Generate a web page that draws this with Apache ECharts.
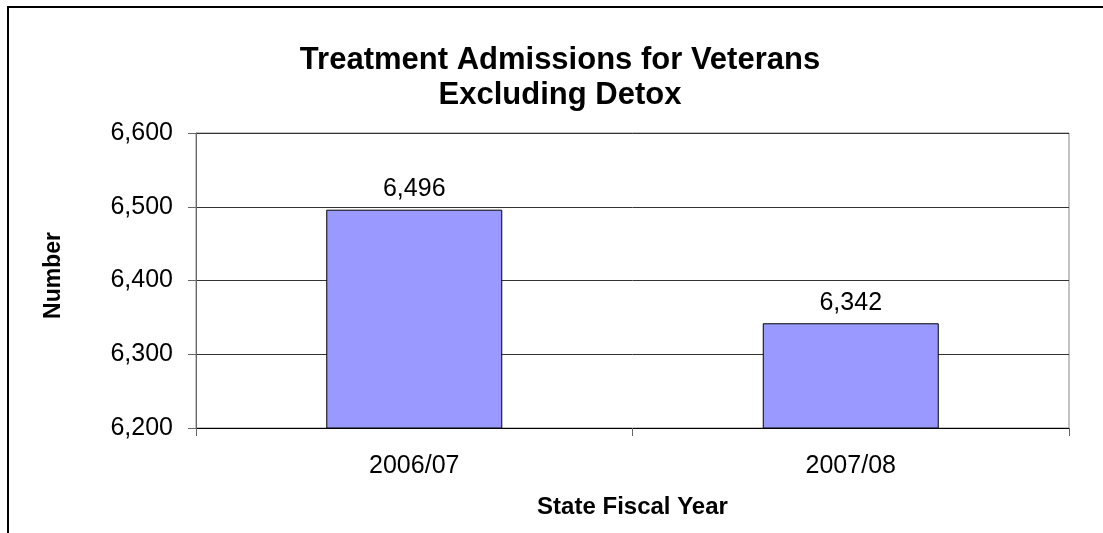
<!DOCTYPE html>
<html>
<head>
<meta charset="utf-8">
<script src="https://cdn.jsdelivr.net/npm/echarts@6/dist/echarts.min.js"></script>
<style>
html,body{margin:0;padding:0;background:#fff;}
#chart{width:1103px;height:533px;}
</style>
</head>
<body>
<div id="chart"></div>
<script>
var categories = ['2006/07', '2007/08'];
var admissions = [6496, 6342];
var yMin = 6200, yMax = 6600, yStep = 100;
var titleLines = ['Treatment Admissions for Veterans', 'Excluding Detox'];

var FONT = '"Liberation Sans", Arial, sans-serif';
function fmt(v){ return String(v).replace(/\B(?=(\d{3})+(?!\d))/g, ','); }

var chart = echarts.init(document.getElementById('chart'), null, {renderer:'canvas'});
chart.setOption({
  animation: false,
  backgroundColor: '#fff',
  graphic: [
    {type: 'line', shape: {x1: 7, y1: 7, x2: 1110, y2: 7}, style: {stroke: '#000', lineWidth: 2}, silent: true},
    {type: 'line', shape: {x1: 8, y1: 6, x2: 8, y2: 540}, style: {stroke: '#000', lineWidth: 2}, silent: true},
    {type: 'text', x: 560, y: 60, style: {text: titleLines[0], font: 'bold 31px ' + FONT, fill: '#000', textAlign: 'center', textVerticalAlign: 'middle'}, silent: true},
    {type: 'text', x: 560, y: 95, style: {text: titleLines[1], font: 'bold 31px ' + FONT, fill: '#000', textAlign: 'center', textVerticalAlign: 'middle'}, silent: true}
  ],
  grid: {left: 196, right: 34, top: 133, bottom: 105, show: true, borderColor: '#888', borderWidth: 1, backgroundColor: 'transparent'},
  xAxis: {
    type: 'category', data: categories,
    name: 'State Fiscal Year', nameLocation: 'middle', nameGap: 67,
    nameTextStyle: {fontFamily: FONT, fontSize: 24, fontWeight: 'bold', color: '#000'},
    axisLine: {lineStyle: {color: '#000', width: 1}},
    axisTick: {show: true, length: 8, lineStyle: {color: '#666'}},
    axisLabel: {fontFamily: FONT, fontSize: 25, color: '#000', margin: 26}
  },
  yAxis: {
    type: 'value', min: yMin, max: yMax, interval: yStep,
    name: 'Number', nameLocation: 'middle', nameGap: 131,
    nameTextStyle: {fontFamily: FONT, fontSize: 23, fontWeight: 'bold', color: '#000', padding: [0, 0, 0, 10]},
    axisLine: {show: true, lineStyle: {color: '#666', width: 1}},
    axisTick: {show: true, length: 8, lineStyle: {color: '#666'}},
    axisLabel: {fontFamily: FONT, fontSize: 25, color: '#000', margin: 23, formatter: fmt},
    splitLine: {show: true, lineStyle: {color: '#333', width: 1}}
  },
  series: [{
    type: 'bar', data: admissions, barWidth: 176,
    itemStyle: {color: '#9999FF', borderColor: '#000', borderWidth: 1},
    label: {show: true, position: 'top', distance: 8, fontFamily: FONT, fontSize: 25, color: '#000',
      formatter: function(p){ return fmt(p.value); }}
  }]
});
</script>
</body>
</html>
